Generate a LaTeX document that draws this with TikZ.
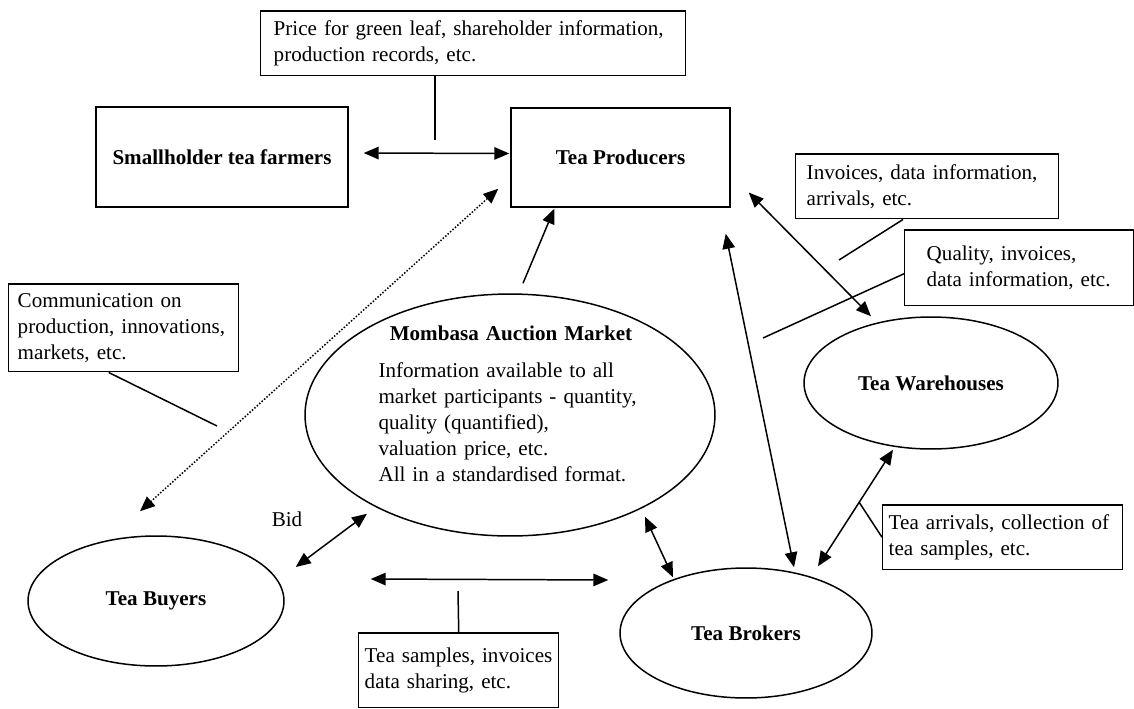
\documentclass[tikz,border=0pt]{standalone}
\usepackage{fontspec}
\setmainfont{Liberation Serif}
\usepackage{tikz}
\usetikzlibrary{positioning,calc}
\usetikzlibrary{shapes,shapes.geometric,arrows.meta}
\tikzstyle{novertex} = [draw=none, fill=none]
\tikzstyle{infobox} = [rectangle, draw, align=left, anchor=north west, inner ysep=0pt]
\tikzstyle{actorbox} = [rectangle, draw, text centered, font=\fontsize{12}{14.8}\selectfont\bfseries]
\tikzstyle{actor} = [ellipse, draw, text centered, font=\fontsize{12}{14.8}\selectfont\bfseries, inner sep=0pt]
\tikzstyle{both} = [draw, <->]
\tikzstyle{single} = [draw, ->]
\tikzstyle{hint} = [draw, densely dotted, <->]
\tikzstyle{link} = [draw]

\begin{document}
\begin{tikzpicture}[x=0.02cm, y=-0.02cm, line width=0.85pt,
  >={Triangle[length=0.3cm,width=0.25cm]}, font=\fontsize{12}{14.8}\selectfont]
	\useasboundingbox (0,0) rectangle (1134,708);

	% place nodes
	\node [infobox, text width=7.98cm, inner xsep=0.26cm, minimum height=1.3cm] (N0) at (260,10)
		{Price for green leaf, shareholder information,\\ production records, etc.};
	\node [actorbox, minimum width=5.04cm, minimum height=2cm]    (N1) at (222,157) {Smallholder tea farmers};
	\node [actorbox, minimum width=4.38cm, minimum height=1.98cm] (N2) at (620.5,157.5) {Tea Producers};
	\node [infobox, text width=4.82cm, inner xsep=0.22cm, minimum height=1.3cm] (N3) at (795,153)
		{Invoices, data information,\\ arrivals, etc.};
	\node [infobox, text width=3.7cm, inner xsep=0.44cm, minimum height=1.52cm] (N4) at (904,229)
		{Quality, invoices,\\ data information, etc.};
	\node [actor, minimum width=8.2cm, minimum height=4.84cm] (N5) at (510,415) {};
	\node [novertex, text width=5.3cm, align=left] (N6) at (511,404)
		{\makebox[5.3cm][c]{\bfseries Mombasa Auction Market}\\[6pt]
		 Information available to all\\ market participants - quantity,\\
		 quality (quantified),\\ valuation price, etc.\\ All in a standardised format.};
	\node [actor, minimum width=5.08cm, minimum height=2.64cm] (N7) at (931,383) {Tea Warehouses};
	\node [infobox, text width=4.24cm, inner xsep=0.18cm, minimum height=1.76cm] (N8) at (8,283)
		{Communication on\\ production, innovations,\\ markets, etc.};
	\node [actor, minimum width=5.12cm, minimum height=2.6cm]  (N9) at (156,601) {Tea Buyers};
	\node [novertex] (N10) at (287,519) {Bid};
	\node [actor, minimum width=5.04cm, minimum height=2.6cm] (N11) at (746,633) {Tea Brokers};
	\node [infobox, text width=3.76cm, inner xsep=0.12cm, minimum height=1.5cm] (N12) at (358,632)
		{Tea samples, invoices\\ data sharing, etc.};
	\node [infobox, text width=4.56cm, inner xsep=0.12cm, minimum height=1.3cm] (N13) at (882,504)
		{Tea arrivals, collection of\\ tea samples, etc.};

	% free ends of the label lines
	\coordinate (C0) at (435,140);
	\coordinate (C1) at (839,260);
	\coordinate (C2) at (763,338);
	\coordinate (C3) at (217,426);
	\coordinate (C4) at (458,591);
	\coordinate (C5) at (859,502);

	% draw edges
	\path [both]   ($(N1.east)+(15,-4)$) -- ($(N2.west)+(-1,-4)$);
	\path [single] ($(N5.north)+(13,-10)$) -- ($(N2.south west)+(44,1)$);
	\path [hint]   ($(N2.south west)+(-12,-19)$) -- ($(N9.north)+(-16,-24)$);
	\path [both]   ($(N2.east)+(18,35)$) -- ($(N7.north)+(-60,0)$);
	\path [both]   ($(N2.south east)+(-5,26)$) -- ($(N11.north)+(48,0)$);
	\path [both]   ($(N9.east)+(11,-34)$) -- ($(N5.south)+(-143,-23)$);
	\path [both]   ($(N5.south)+(135,-20)$) -- ($(N11.north)+(-73,10)$);
	\path [both]   ($(N9.east)+(86,-22)$) -- ($(N11.west)+(-11,-53)$);
	\path [both]   ($(N11.north)+(72,-1)$) -- ($(N7.south)+(-38,0)$);

	% label lines
	\path [link] (N0.south -| C0) -- (C0);
	\path [link] ($(N3.south west)+(108,0)$) -- (C1);
	\path [link] ($(N4.west)+(0,6)$) -- (C2);
	\path [link] ($(N8.south)+(-15,0)$) -- (C3);
	\path [link] (N12.north) -- (C4);
	\path [link] (N13.west) -- (C5);
\end{tikzpicture}
\end{document}
